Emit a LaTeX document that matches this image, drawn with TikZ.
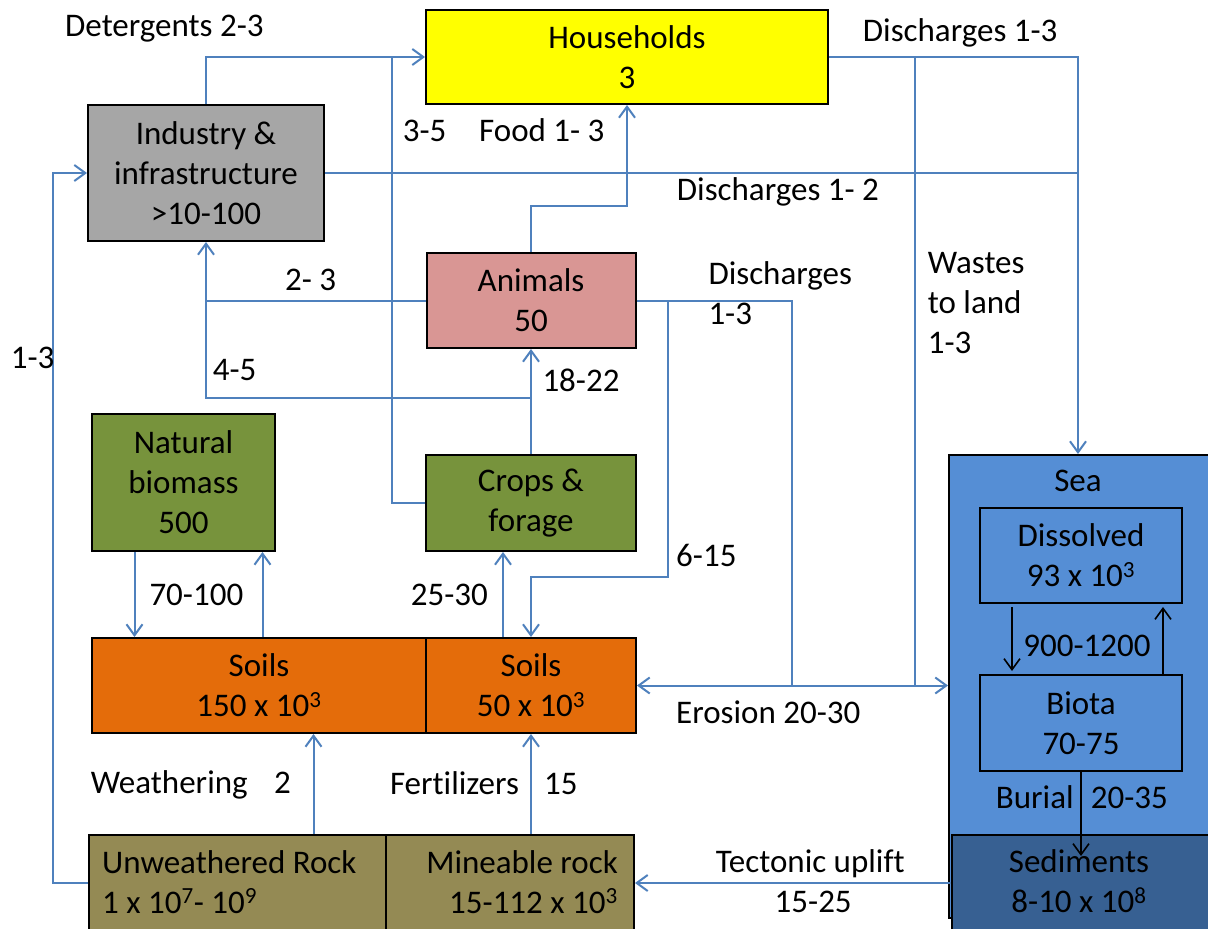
\documentclass[tikz,border=0pt]{standalone}
\usepackage{fontspec}
\setmainfont[Ligatures={NoCommon}]{Carlito}
\usetikzlibrary{arrows.meta}
\definecolor{flowc}{HTML}{4F81BD}
\definecolor{hhc}{HTML}{FFFF00}
\definecolor{indc}{HTML}{A6A6A6}
\definecolor{anic}{HTML}{D99694}
\definecolor{greenc}{HTML}{77933C}
\definecolor{soilc}{HTML}{E46C0A}
\definecolor{rockc}{HTML}{948A54}
\definecolor{seac}{HTML}{558ED5}
\definecolor{sedc}{HTML}{376092}
\begin{document}
\begin{tikzpicture}[x=1pt,y=-1pt,
  font=\fontsize{33}{40}\selectfont,
  box/.style={draw=black,line width=2pt,inner sep=0pt,align=center},
  flow/.style={draw=flowc,line width=2pt},
  blk/.style={draw=black,line width=1.6pt},
  >={Straight Barb[length=11pt,width=16pt]},
  lbl/.style={anchor=base west,inner sep=0pt},
  clbl/.style={anchor=base,inner sep=0pt},
  rlbl/.style={anchor=base east,inner sep=0pt}]
\fill[white] (0,0) rectangle (1208,929);
\useasboundingbox (0,0) rectangle (1208,929);
\clip (0,0) rectangle (1208,929);

% boxes
\node[box,fill=hhc,minimum width=402pt,minimum height=94pt] (hh) at (627,57) {Households\\3};
\node[box,fill=indc,minimum width=236pt,minimum height=136pt] (ind) at (206,173) {Industry \&\\infrastructure\\>10-100};
\node[box,fill=anic,minimum width=209pt,minimum height=95pt] (ani) at (531,300.5) {Animals\\50};
\node[box,fill=greenc,minimum width=210pt,minimum height=96pt] (crops) at (531,503) {Crops \&\\forage};
\node[box,fill=greenc,minimum width=183pt,minimum height=137pt] (nat) at (183.5,482.5) {Natural\\biomass\\500};
\node[box,fill=soilc,minimum width=334pt,minimum height=95pt] (soilL) at (259,685.5) {Soils\\150 x 10\textsuperscript{3}};
\node[box,fill=soilc,minimum width=210pt,minimum height=95pt] (soilR) at (531,685.5) {Soils\\50 x 10\textsuperscript{3}};
\node[box,fill=rockc,minimum width=297pt,minimum height=140pt] (unw) at (237.5,905) {};
\node[box,fill=rockc,minimum width=248pt,minimum height=140pt] (mine) at (510,905) {};
\node[box,fill=seac,minimum width=266pt,minimum height=463pt] (sea) at (1082,686.5) {};
\node[box,fill=seac,minimum width=202pt,minimum height=95pt] (diss) at (1081,555.5) {Dissolved\\93 x 10\textsuperscript{3}};
\node[box,fill=seac,minimum width=202pt,minimum height=96pt] (biota) at (1081,723) {Biota\\70-75};
\node[box,fill=sedc,minimum width=263pt,minimum height=140pt] (sed) at (1083.5,905) {};

% texts inside clipped boxes
\node[lbl] (t_unw1) at (102,873) {Unweathered Rock};
\node[lbl] (t_unw2) at (102,913) {1 x 10\textsuperscript{7}- 10\textsuperscript{9}};
\node[rlbl] (t_min1) at (618,873) {Mineable rock};
\node[rlbl] (t_min2) at (618,913) {15-112 x 10\textsuperscript{3}};
\node[clbl] (t_sed1) at (1079,872.7) {Sediments};
\node[clbl] (t_sed2) at (1079,912.7) {8-10 x 10\textsuperscript{8}};
\node[clbl] (t_sea) at (1078,491.7) {Sea};

% helper coordinates
\coordinate (j35) at (392,57);
\coordinate (w1) at (915,57);
\coordinate (e2) at (792,685.5);
\coordinate (b615) at (668,300.5);
\coordinate (k615) at (531,577);
\coordinate (b45) at (531,398);
\coordinate (tu) at (0,883);
\coordinate (sx) at (1078,0);

% connectors
\draw[flow,->] (ind.north) |- (hh.west);
\draw[flow] (crops.west) -| (j35);
\draw[flow,->] (ani.north) -- ++(0,-46) -| (hh.south);
\draw[flow] (ind.east) -- (ind.east -| sx);
\draw[flow,->] (hh.east) -| (sea.north -| sx);
\draw[flow] (w1) -- (w1 |- soilR.east);
\draw[flow,<->] (soilR.east) -- (soilR.east -| sea.west);
\draw[flow] (ani.east) -| (e2);
\draw[flow,->] (b615) |- (k615) -- (soilR.north);
\draw[flow,->] (crops.north) -- (ani.south);
\draw[flow,->] (b45) -| (ind.south);
\draw[flow] (ani.west) -- (ani.west -| ind.south);
\draw[flow,->] (unw.west |- tu) -- ++(-35,0) |- (ind.west);
\draw[flow,->] ([xshift=-49pt]nat.south) -- ([xshift=-49pt]nat.south |- soilL.north);
\draw[flow,->] ([xshift=79pt]nat.south |- soilL.north) -- ([xshift=79pt]nat.south);
\draw[flow,->] ([xshift=-28pt]crops.south |- soilR.north) -- ([xshift=-28pt]crops.south);
\draw[flow,->] ([xshift=54.5pt]soilL.south |- unw.north) -- ([xshift=54.5pt]soilL.south);
\draw[flow,->] (soilR.south |- mine.north) -- (soilR.south);
\draw[flow,->] (sed.west |- tu) -- (mine.east |- tu);
\draw[blk,->] ([xshift=-69pt,yshift=-3pt]diss.south) -- ([xshift=-69pt,yshift=3pt]biota.north);
\draw[blk,->] ([xshift=82pt]biota.north) -- ([xshift=82pt,yshift=-3pt]diss.south);
\draw[blk,->] (biota.south) -- ([yshift=-22pt]sed.north -| biota.south);

% labels
\node[lbl] (l1) at (65,36.7) {Detergents 2-3};
\node[lbl] (l2) at (862.7,41.7) {Discharges 1-3};
\node[lbl] (l3) at (402.7,141.7) {3-5};
\node[lbl] (l4) at (479,141.7) {Food 1- 3};
\node[lbl] (l5) at (676.7,200) {Discharges 1- 2};
\node[lbl] (l6a) at (927.7,273) {Wastes};
\node[lbl] (l6b) at (927.7,313) {to land};
\node[lbl] (l6c) at (927.7,353) {1-3};
\node[lbl] (l7a) at (708.3,284) {Discharges};
\node[lbl] (l7b) at (708.3,324) {1-3};
\node[lbl] (l8) at (285,290) {2- 3};
\node[lbl] (l9) at (10.7,368) {1-3};
\node[lbl] (l10) at (212.7,380) {4-5};
\node[lbl] (l11) at (542.3,391.7) {18-22};
\node[lbl] (l12) at (676,566) {6-15};
\node[lbl] (l13) at (149.3,605) {70-100};
\node[lbl] (l14) at (410.7,605) {25-30};
\node[clbl] (l15) at (1087,656.7) {900-1200};
\node[lbl] (l16) at (676,723) {Erosion 20-30};
\node[lbl] (l17a) at (90.6,793) {Weathering};
\node[lbl] (l17b) at (274,793) {2};
\node[lbl] (l18a) at (389.8,794) {Fertilizers};
\node[lbl] (l18b) at (544,794) {15};
\node[lbl] (l19a) at (995.7,808) {Burial};
\node[lbl] (l19b) at (1090.6,808) {20-35};
\node[lbl] (l20a) at (715.6,872.7) {Tectonic uplift};
\node[lbl] (l20b) at (774.5,912.7) {15-25};
\end{tikzpicture}
\end{document}
